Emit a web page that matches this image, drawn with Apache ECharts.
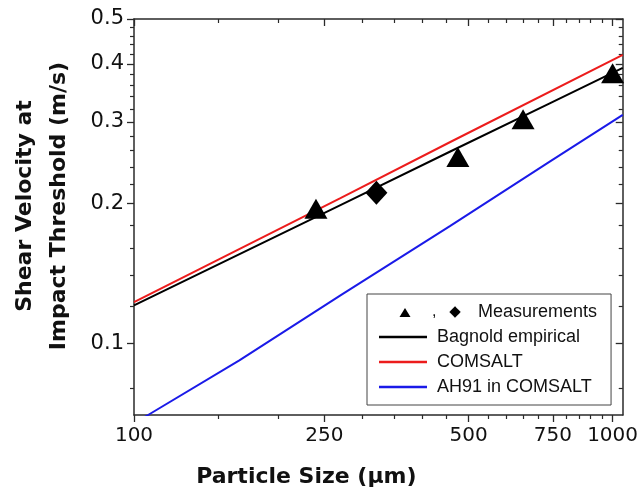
<!DOCTYPE html>
<html>
<head>
<meta charset="utf-8">
<script src="https://cdn.jsdelivr.net/npm/echarts@6/dist/echarts.min.js"></script>
<style>
  html, body { margin: 0; padding: 0; background: #fff; }
  #chart { width: 641px; height: 498px; }
</style>
</head>
<body>
<div id="chart"></div>
<script>
// ---- data ----
const xTickValues = [100, 250, 500, 750, 1000];
const xMinorTickValues = [150, 200, 300, 350, 400, 450, 550, 600, 650, 700, 800, 850, 900, 950];
const yTickValues = [0.1, 0.2, 0.3, 0.4, 0.5];
const yMinorTickValues = [0.08, 0.12, 0.14, 0.16, 0.18, 0.22, 0.24, 0.26, 0.28,
                          0.32, 0.34, 0.36, 0.38, 0.42, 0.44, 0.46, 0.48];

const measTriangleSize = [240, 475, 650, 1000];
const measTriangleVelocity = [0.195, 0.252, 0.304, 0.382];
const measDiamondSize = [321];
const measDiamondVelocity = [0.211];

const bagnoldSize = [100, 270, 458, 739, 1050];
const bagnoldVelocity = [0.1206, 0.1985, 0.2590, 0.3290, 0.3924];

const comsaltSize = [100, 270, 458, 1050];
const comsaltVelocity = [0.1226, 0.2055, 0.2715, 0.4186];

const ah91Size = [100, 107, 166, 270, 458, 739, 1050];
const ah91Velocity = [0.0672, 0.0700, 0.0918, 0.1268, 0.1790, 0.2462, 0.3106];

const xMin = 100, xMax = 1050, yMin = 0.07, yMax = 0.5;

// ---- build option ----
const pairs = (xs, ys) => xs.map((x, i) => [x, ys[i]]);
const lg = v => Math.log10(v);
const axisColor = '#2a2a2a';
const xTickFont = { fontFamily: 'DejaVu Sans', fontSize: 20, color: '#111' };
const yTickFont = { fontFamily: 'DejaVu Sans', fontSize: 21, color: '#111' };

// legend icons (48 x 10 box, drawn at natural proportions)
const lineIcon = 'path://M0,0 M48,10 M0,3.75 L48,3.75 L48,6.25 L0,6.25 Z';
const triIcon = 'path://M0,0 M48,10 M20.5,10 L26,1 L31.5,10 Z';

function frameAxis(extra) {
  return Object.assign({
    type: 'value',
    gridIndex: 0,
    splitLine: { show: false },
    axisLine: { show: false, lineStyle: { color: axisColor, width: 1.5 } },
    axisTick: { show: false },
    axisLabel: { show: false }
  }, extra);
}
const majorTick = (vals, inside) => ({ show: true, inside, length: 7, customValues: vals.map(lg),
                                       lineStyle: { color: axisColor, width: 1.3 } });
const minorTick = (vals, inside) => ({ show: true, inside, length: 4, customValues: vals.map(lg),
                                       lineStyle: { color: axisColor, width: 1.2 } });
const shownLine = { show: true, lineStyle: { color: axisColor, width: 1.5 } };

const xAxes = [
  { type: 'log', logBase: 10, min: xMin, max: xMax, position: 'bottom', show: false },
  frameAxis({
    min: lg(xMin), max: lg(xMax), position: 'bottom',
    axisLine: shownLine,
    axisTick: majorTick(xTickValues, false),
    axisLabel: { show: true, customValues: xTickValues.map(lg), margin: 11,
                 formatter: v => String(Math.round(Math.pow(10, v))), ...xTickFont },
    name: 'Particle Size (\u03bcm)', nameLocation: 'middle', nameGap: 51,
    nameTextStyle: { fontFamily: 'DejaVu Sans', fontWeight: 'bold', fontSize: 22, color: '#111',
                     padding: [0, 144, 0, 0] }
  }),
  frameAxis({ min: lg(xMin), max: lg(xMax), position: 'bottom', axisTick: minorTick(xMinorTickValues, false) }),
  frameAxis({ min: lg(xMin), max: lg(xMax), position: 'top', axisLine: shownLine, axisTick: majorTick(xTickValues, true) }),
  frameAxis({ min: lg(xMin), max: lg(xMax), position: 'top', axisTick: minorTick(xMinorTickValues, true) })
];

const yAxes = [
  { type: 'log', logBase: 10, min: yMin, max: yMax, position: 'left', show: false },
  frameAxis({
    min: lg(yMin), max: lg(yMax), position: 'left',
    axisLine: shownLine,
    axisTick: majorTick(yTickValues, false),
    axisLabel: { show: true, customValues: yTickValues.map(lg), margin: 10,
                 formatter: v => String(Math.round(Math.pow(10, v) * 100) / 100), ...yTickFont },
    name: 'Shear Velocity at\nImpact Threshold (m/s)', nameLocation: 'middle', nameGap: 58, nameRotate: 90,
    nameTextStyle: { fontFamily: 'DejaVu Sans', fontWeight: 'bold', fontSize: 22, color: '#111',
                     lineHeight: 34, padding: [0, 0, 0, 22] }
  }),
  frameAxis({ min: lg(yMin), max: lg(yMax), position: 'left', axisTick: minorTick(yMinorTickValues, false) }),
  frameAxis({ min: lg(yMin), max: lg(yMax), position: 'right', axisLine: shownLine, axisTick: majorTick(yTickValues, true) }),
  frameAxis({ min: lg(yMin), max: lg(yMax), position: 'right', axisTick: minorTick(yMinorTickValues, true) })
];

const lineSeries = (name, xs, ys, color) => ({
  name, type: 'line', xAxisIndex: 0, yAxisIndex: 0,
  data: pairs(xs, ys), symbol: 'none', smooth: false, clip: true,
  lineStyle: { color, width: 2 }, itemStyle: { color }, z: 2
});

const option = {
  animation: false,
  backgroundColor: '#fff',
  grid: { left: 132, right: 17.5, top: 19, bottom: 83, containLabel: false },
  xAxis: xAxes,
  yAxis: yAxes,
  legend: {
    orient: 'vertical', left: 367, top: 294,
    padding: [8, 14, 8, 12], itemGap: 5, itemWidth: 48, itemHeight: 10,
    borderColor: '#444', borderWidth: 1, backgroundColor: '#fff',
    textStyle: { fontFamily: 'Liberation Sans', fontSize: 18, color: '#111', lineHeight: 20,
      rich: {
        c: { fontFamily: 'Liberation Sans', fontSize: 16, color: '#111', width: 12, align: 'left' },
        d: { fontFamily: 'DejaVu Sans', fontSize: 15, color: '#000', width: 22, align: 'center' },
        m: { fontFamily: 'Liberation Sans', fontSize: 18, color: '#111', padding: [0, 0, 0, 12] },
        t: { fontFamily: 'Liberation Sans', fontSize: 18, color: '#111', padding: [0, 0, 0, 5] }
      }
    },
    formatter: name => name === 'Measurements'
      ? '{c|,}{d|\u25c6}{m|Measurements}'
      : '{t|' + name + '}',
    data: [
      { name: 'Measurements', icon: triIcon },
      { name: 'Bagnold empirical', icon: lineIcon },
      { name: 'COMSALT', icon: lineIcon },
      { name: 'AH91 in COMSALT', icon: lineIcon }
    ]
  },
  series: [
    lineSeries('Bagnold empirical', bagnoldSize, bagnoldVelocity, '#000000'),
    lineSeries('COMSALT', comsaltSize, comsaltVelocity, '#ec1c1c'),
    lineSeries('AH91 in COMSALT', ah91Size, ah91Velocity, '#1a1ae8'),
    {
      name: 'Measurements', type: 'scatter', xAxisIndex: 0, yAxisIndex: 0,
      data: pairs(measTriangleSize, measTriangleVelocity),
      symbol: 'triangle', symbolSize: [23, 20], itemStyle: { color: '#000', opacity: 1 }, z: 5
    },
    {
      name: 'Measurements', type: 'scatter', xAxisIndex: 0, yAxisIndex: 0,
      data: pairs(measDiamondSize, measDiamondVelocity),
      symbol: 'diamond', symbolSize: [22, 24], itemStyle: { color: '#000', opacity: 1 }, z: 5
    }
  ]
};

const chart = echarts.init(document.getElementById('chart'), null, { renderer: 'canvas' });
chart.setOption(option);
</script>
</body>
</html>
